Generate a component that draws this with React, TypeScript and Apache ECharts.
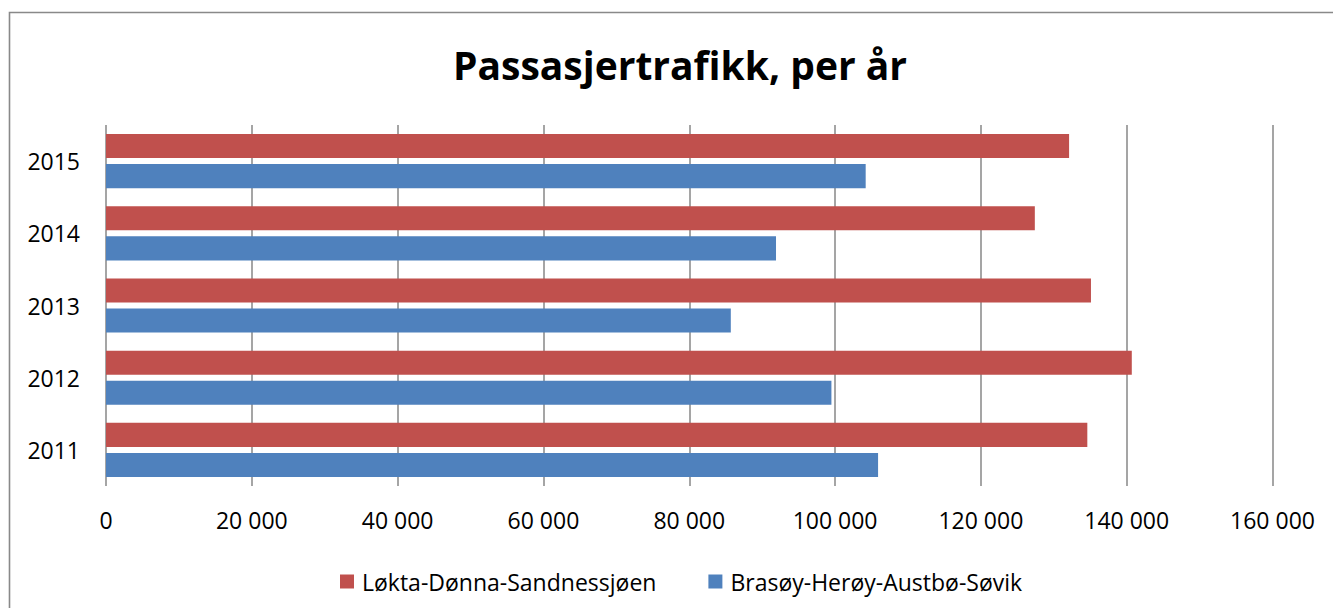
import React, { useEffect, useRef } from "react";
import * as echarts from "echarts";

const categories = ["2011", "2012", "2013", "2014", "2015"];
const seriesNames = ["Løkta-Dønna-Sandnessjøen", "Brasøy-Herøy-Austbø-Søvik"];
const loktaValues = [134600, 140700, 135100, 127400, 132100];
const brasoyValues = [105900, 99500, 85700, 91900, 104200];
const titleText = "Passasjertrafikk, per år";

const FONT = "'Open Sans', sans-serif";

function fmt(v: number): string {
  return String(v).replace(/\B(?=(\d{3})+(?!\d))/g, " ");
}

export default function App() {
  const ref = useRef<HTMLDivElement>(null);
  useEffect(() => {
    if (!ref.current) return;
    const chart = echarts.init(ref.current, undefined, { renderer: "svg" });
    chart.setOption({
      animation: false,
      backgroundColor: "#ffffff",
      textStyle: { fontFamily: FONT },
      graphic: [
        {
          type: "rect",
          shape: { x: 9.5, y: 12.5, width: 1400, height: 700 },
          style: { fill: "none", stroke: "#898989", lineWidth: 1.6 },
          silent: true,
        },
      ],
      title: {
        text: titleText,
        left: 675,
        top: 40,
        textAlign: "center",
        textStyle: { fontFamily: FONT, fontWeight: "bold", fontSize: 39, color: "#000" },
      },
      legend: {
        data: seriesNames,
        left: 340,
        top: 570,
        padding: 0,
        itemWidth: 14,
        itemHeight: 14,
        itemGap: 52,
        icon: "rect",
        textStyle: { fontFamily: FONT, fontSize: 23, color: "#000", padding: [0, 0, 0, 3] },
      },
      grid: { left: 106, right: 60.5, top: 125, height: 361, containLabel: false },
      xAxis: {
        type: "value",
        min: 0,
        max: 160000,
        interval: 20000,
        axisLine: { show: false },
        axisTick: { show: false },
        splitLine: { show: true, lineStyle: { color: "#878787", width: 1.5 } },
        axisLabel: {
          fontFamily: FONT,
          fontSize: 23,
          color: "#000",
          margin: 22,
          formatter: (v: number) => fmt(v),
        },
      },
      yAxis: {
        type: "category",
        data: categories,
        axisLine: { show: false },
        axisTick: { show: false },
        splitLine: { show: false },
        axisLabel: { fontFamily: FONT, fontSize: 23, color: "#000", margin: 26 },
      },
      series: [
        {
          name: seriesNames[0],
          type: "bar",
          data: loktaValues,
          itemStyle: { color: "#C0504D" },
          barGap: "25%",
          barCategoryGap: "25%",
        },
        {
          name: seriesNames[1],
          type: "bar",
          data: brasoyValues,
          itemStyle: { color: "#4F81BD" },
          barGap: "25%",
          barCategoryGap: "25%",
        },
      ],
    });
    return () => chart.dispose();
  }, []);
  return (
    <div
      ref={ref}
      style={{ position: "fixed", left: 0, top: 0, width: 1333, height: 608 }}
    />
  );
}
